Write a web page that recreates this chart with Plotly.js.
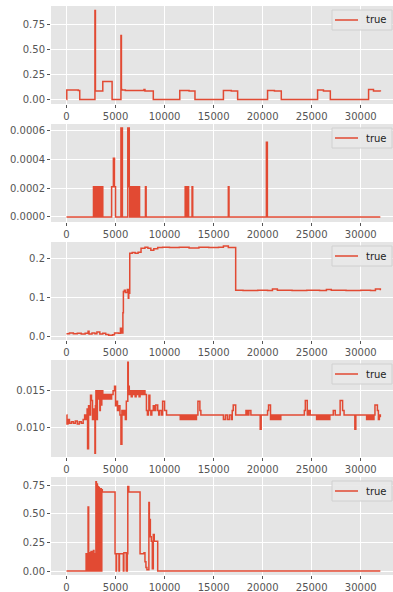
<!DOCTYPE html>
<html>
<head>
<meta charset="utf-8">
<script src="https://cdn.plot.ly/plotly-3.0.1.min.js"></script>
<style>html,body{margin:0;padding:0;background:#fff;overflow:hidden;}#chart{width:393px;height:592px;}</style>
</head>
<body>
<div id="chart"></div>
<script>
// ---- data ----
const seriesName = "true";
const xTicks = [0, 5000, 10000, 15000, 20000, 25000, 30000];

const x1 = [0, 30, 1200, 1350, 2900, 2950, 3700, 4650, 5550, 5600, 5650, 6000, 7900, 8000, 8850, 11550, 12500, 13100, 16000, 16800, 17450, 20500, 21200, 21900, 25600, 26200, 26900, 30800, 31300, 32000];
const y1 = [0.0, 0.095, 0.09, 0.0, 0.89, 0.085, 0.18, 0.0, 0.64, 0.1, 0.095, 0.09, 0.1, 0.085, 0.0, 0.09, 0.085, 0.0, 0.09, 0.085, 0.0, 0.09, 0.085, 0.0, 0.095, 0.085, 0.0, 0.1, 0.085, 0.08];
const yTicks1 = [0, 0.25, 0.5, 0.75];

const x2 = [0, 2750, 2800, 2850, 2900, 2950, 3000, 3050, 3100, 3150, 3200, 3250, 3300, 3350, 3400, 3450, 3500, 3550, 3600, 3650, 3700, 4600, 4780, 4900, 5000, 5550, 5700, 6250, 6400, 6450, 6500, 6550, 6600, 6650, 6700, 6750, 6800, 6850, 6900, 6950, 7000, 7050, 7100, 7150, 7200, 7250, 7300, 7350, 7400, 7450, 8050, 8120, 12100, 12150, 12250, 12300, 12400, 12450, 12800, 12870, 16500, 16570, 20380, 20480, 32000];
const y2 = [0, 0.00021, 0, 0.00021, 0, 0.00021, 0, 0.00021, 0, 0.00021, 0, 0.00021, 0, 0.00021, 0, 0.00021, 0, 0.00021, 0, 0.00021, 0, 0.00021, 0.00041, 0.00021, 0, 0.00062, 0, 0.00062, 0.00021, 0, 0.00021, 0, 0.00021, 0, 0.00021, 0, 0.00021, 0, 0.00021, 0, 0.00021, 0, 0.00021, 0, 0.00021, 0, 0.00021, 0, 0.00021, 0, 0.00021, 0, 0.00021, 0, 0.00021, 0, 0.00021, 0, 0.00021, 0, 0.00021, 0, 0.00052, 0, 0];
const yTicks2 = [0, 0.0002, 0.0004, 0.0006];

const x3 = [0, 300, 700, 1100, 1500, 1900, 2200, 2300, 2600, 2900, 3100, 3400, 3700, 4000, 4300, 4700, 4900, 5300, 5500, 5650, 5750, 5800, 5900, 6000, 6200, 6300, 6350, 6450, 6700, 7000, 7300, 7600, 8000, 8300, 8600, 8900, 9300, 9800, 10500, 11500, 12500, 13500, 14500, 15500, 16000, 16500, 17250, 18000, 19500, 20500, 21000, 21500, 23000, 24500, 25800, 26500, 27000, 28500, 30000, 31000, 31500, 32000];
const y3 = [0.006, 0.008, 0.006, 0.007, 0.005, 0.007, 0.012, 0.005, 0.008, 0.006, 0.01, 0.005, 0.007, 0.004, 0.002, 0.003, 0.008, 0.007, 0.02, 0.008, 0.06, 0.115, 0.118, 0.112, 0.12, 0.097, 0.11, 0.213, 0.215, 0.213, 0.216, 0.226, 0.229, 0.226, 0.221, 0.225, 0.228, 0.229, 0.228, 0.229, 0.227, 0.229, 0.228, 0.229, 0.232, 0.228, 0.118, 0.117, 0.118, 0.117, 0.121, 0.118, 0.117, 0.118, 0.117, 0.12, 0.118, 0.117, 0.118, 0.117, 0.121, 0.118];
const yTicks3 = [0, 0.1, 0.2];

const x4 = [0, 50, 150, 300, 500, 700, 900, 1100, 1300, 1500, 1700, 1850, 2000, 2100, 2150, 2250, 2350, 2450, 2550, 2650, 2750, 2900, 2950, 3000, 3100, 3150, 3250, 3300, 3400, 3450, 3550, 3600, 3700, 3800, 3900, 4000, 4100, 4200, 4300, 4400, 4500, 4600, 4750, 4900, 5000, 5100, 5200, 5300, 5450, 5550, 5650, 5750, 5850, 6000, 6100, 6250, 6300, 6400, 6500, 6600, 6700, 6800, 6900, 7000, 7100, 7200, 7300, 7400, 7500, 7600, 7700, 7800, 7900, 8000, 8150, 8250, 8350, 8400, 8500, 8600, 8700, 8850, 9000, 9100, 9300, 9400, 9500, 9700, 9800, 10000, 10200, 11600, 11750, 11900, 12050, 12200, 12350, 12500, 12650, 12800, 12950, 13100, 13250, 13400, 13600, 13700, 16000, 16200, 16400, 16600, 16800, 16900, 17000, 17250, 18300, 18450, 18600, 18800, 19750, 19850, 20500, 20600, 20800, 20950, 21100, 21250, 21400, 21550, 21700, 21850, 24250, 24350, 24550, 24700, 24850, 25500, 25650, 25800, 25950, 26100, 26250, 26400, 26550, 26700, 26850, 27200, 27400, 27900, 28150, 28300, 29400, 29500, 30600, 30750, 30900, 31050, 31200, 31350, 31450, 31700, 31800, 31900, 32000];
const y4 = [0.0117, 0.0105, 0.0111, 0.0106, 0.0108, 0.0106, 0.0109, 0.0105, 0.0108, 0.0106, 0.0111, 0.0117, 0.0111, 0.0125, 0.0072, 0.0129, 0.0117, 0.0143, 0.0136, 0.0111, 0.0125, 0.0066, 0.0129, 0.0149, 0.0111, 0.0149, 0.0138, 0.0149, 0.0123, 0.0149, 0.0130, 0.0149, 0.0138, 0.0144, 0.0138, 0.0144, 0.0138, 0.0144, 0.0138, 0.0144, 0.0138, 0.0144, 0.0149, 0.0155, 0.0129, 0.0135, 0.0123, 0.0129, 0.0117, 0.0078, 0.0123, 0.0117, 0.0123, 0.0111, 0.0135, 0.0187, 0.0155, 0.0144, 0.0149, 0.0141, 0.0149, 0.0144, 0.0149, 0.0141, 0.0149, 0.0144, 0.0149, 0.0141, 0.0149, 0.0144, 0.0149, 0.0144, 0.0149, 0.0144, 0.0123, 0.0117, 0.0123, 0.0143, 0.0123, 0.0117, 0.0123, 0.0129, 0.0123, 0.0130, 0.0123, 0.0117, 0.0123, 0.0117, 0.0135, 0.0123, 0.0117, 0.0111, 0.0117, 0.0111, 0.0117, 0.0111, 0.0117, 0.0111, 0.0117, 0.0111, 0.0117, 0.0111, 0.0117, 0.0135, 0.0123, 0.0117, 0.0111, 0.0117, 0.0111, 0.0117, 0.0111, 0.0123, 0.0130, 0.0117, 0.0123, 0.0117, 0.0123, 0.0117, 0.0098, 0.0117, 0.0123, 0.0130, 0.0111, 0.0117, 0.0111, 0.0117, 0.0111, 0.0117, 0.0111, 0.0117, 0.0123, 0.0136, 0.0117, 0.0123, 0.0117, 0.0111, 0.0117, 0.0111, 0.0117, 0.0111, 0.0117, 0.0111, 0.0117, 0.0111, 0.0117, 0.0123, 0.0117, 0.0136, 0.0123, 0.0117, 0.0098, 0.0117, 0.0111, 0.0117, 0.0111, 0.0117, 0.0111, 0.0117, 0.0130, 0.0123, 0.0111, 0.0117, 0.0114];
const yTicks4 = [0.010, 0.015];

const x5 = [0, 2000, 2050, 2100, 2150, 2200, 2260, 2300, 2350, 2450, 2500, 2600, 2650, 2750, 2800, 2900, 2950, 3000, 3050, 3100, 3150, 3200, 3250, 3300, 3350, 3400, 3450, 3500, 3550, 3600, 3650, 4950, 5050, 5100, 5350, 5400, 5800, 5850, 6100, 6200, 6250, 6350, 7500, 7900, 8000, 8100, 8200, 8400, 8450, 8550, 8650, 8750, 8850, 8950, 9300, 32000];
const y5 = [0, 0.15, 0, 0.14, 0, 0.56, 0.15, 0.16, 0, 0.16, 0.17, 0, 0.17, 0.18, 0, 0.15, 0, 0.78, 0, 0.76, 0, 0.74, 0.1, 0.73, 0, 0.72, 0, 0.72, 0, 0.71, 0.69, 0.15, 0, 0.15, 0, 0.15, 0, 0.16, 0, 0.15, 0.74, 0.69, 0.15, 0.16, 0.08, 0.03, 0.01, 0.6, 0.45, 0.3, 0.26, 0.02, 0.32, 0.26, 0, 0];
const yTicks5 = [0, 0.25, 0.5, 0.75];

// ---- layout geometry ----
const H = 592, W = 393, L = 51, PW = W - L;
const panels = [
  {x: x1, y: y1, ticks: yTicks1, fmt: '.2f', range: [-0.0445, 0.9345], top: 6, bottom: 104},
  {x: x2, y: y2, ticks: yTicks2, fmt: '.4f', range: [-0.000035, 0.000648], top: 124, bottom: 222},
  {x: x3, y: y3, ticks: yTicks3, fmt: '.1f', range: [-0.0103, 0.2423], top: 242, bottom: 340},
  {x: x4, y: y4, ticks: yTicks4, fmt: '.3f', range: [0.0061, 0.0190], top: 360, bottom: 457},
  {x: x5, y: y5, ticks: yTicks5, fmt: '.2f', range: [-0.035, 0.822], top: 477, bottom: 575}
];

const font = {family: 'DejaVu Sans, sans-serif', size: 10, color: '#555555'};
const px2x = px => (px - L) / PW;
const px2y = py => 1 - py / H;
const data = [];
const shapes = [];
const annotations = [];
const layout = {
  width: W, height: H,
  margin: {l: L, r: 0, t: 0, b: 0},
  paper_bgcolor: '#ffffff',
  plot_bgcolor: '#E5E5E5',
  font: font,
  showlegend: false,
  shapes: shapes,
  annotations: annotations
};

panels.forEach((p, i) => {
  const n = i + 1;
  const sfx = n === 1 ? '' : String(n);
  data.push({
    type: 'scatter', mode: 'lines', name: seriesName,
    x: p.x, y: p.y,
    xaxis: 'x' + sfx, yaxis: 'y' + sfx,
    line: {color: '#E24A33', width: 1.5, shape: 'hv'}
  });
  const dom = [1 - p.bottom / H, 1 - p.top / H];
  layout['xaxis' + sfx] = {
    domain: [0, 1], anchor: 'y' + sfx,
    range: [-1580, 33290],
    tickvals: xTicks, ticktext: xTicks.map(String),
    ticks: 'outside', ticklen: 3, tickwidth: 1, tickcolor: '#555555',
    showgrid: true, gridcolor: '#ffffff', gridwidth: 1,
    zeroline: false, showline: false, fixedrange: true,
    tickfont: font
  };
  layout['yaxis' + sfx] = {
    domain: dom, anchor: 'x' + sfx,
    range: p.range,
    tickvals: p.ticks, tickformat: p.fmt,
    ticks: 'outside', ticklen: 3, tickwidth: 1, tickcolor: '#555555',
    showgrid: true, gridcolor: '#ffffff', gridwidth: 1,
    zeroline: false, showline: false, fixedrange: true,
    tickfont: font
  };
  // legend box (matplotlib-style) drawn in paper space
  const t = p.top + 4, b = p.top + 24, c = (t + b) / 2;
  shapes.push({type: 'rect', xref: 'paper', yref: 'paper',
    x0: px2x(332), x1: px2x(392), y0: px2y(b), y1: px2y(t),
    fillcolor: 'rgba(232,232,232,0.9)', line: {color: '#D0D0D0', width: 1}});
  shapes.push({type: 'line', xref: 'paper', yref: 'paper',
    x0: px2x(335), x1: px2x(358), y0: px2y(c), y1: px2y(c),
    line: {color: '#E24A33', width: 1.5}});
  annotations.push({xref: 'paper', yref: 'paper', x: px2x(364), y: px2y(c),
    xanchor: 'left', yanchor: 'middle', showarrow: false, text: seriesName,
    font: {family: 'DejaVu Sans, sans-serif', size: 10, color: '#222222'}});
});

Plotly.newPlot('chart', data, layout, {displayModeBar: false, staticPlot: true});
</script>
</body>
</html>
